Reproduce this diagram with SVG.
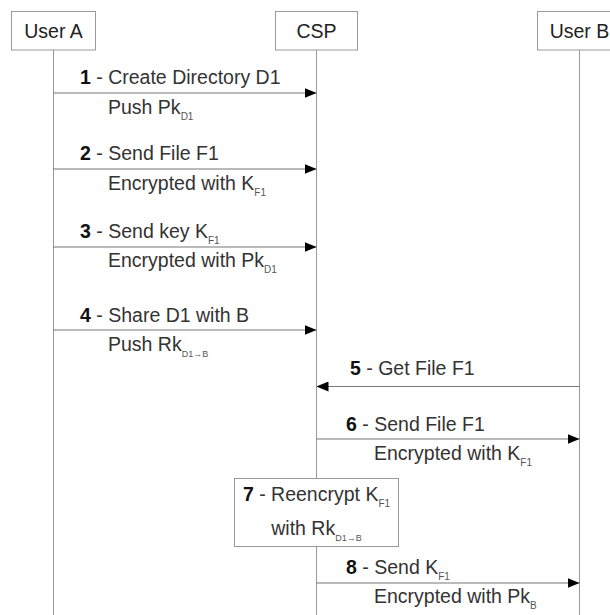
<svg xmlns="http://www.w3.org/2000/svg" width="610" height="615" viewBox="0 0 610 615">
<style>
.box{fill:#fff;stroke:#999;stroke-width:1}
.life{stroke:#999;stroke-width:1}
.msg{stroke:#777;stroke-width:1.2;fill:none}
text{font-family:"Liberation Sans",Arial,sans-serif;font-size:19.5px;fill:#333}
.hd{fill:#222}
.b{font-weight:bold;fill:#111}
.s{font-size:10px;fill:#555}
</style>
<defs>
<marker id="ah" markerWidth="12" markerHeight="10" refX="12" refY="5" orient="auto" markerUnits="userSpaceOnUse">
<path d="M0,0 L12,5 L0,10 Z" fill="#000"/>
</marker>
</defs>
<rect width="610" height="615" fill="#fff"/>
<g id="lifelines">
<line class="life" x1="53.5" y1="50" x2="53.5" y2="615"/>
<line class="life" x1="316.5" y1="50" x2="316.5" y2="615"/>
<line class="life" x1="579.5" y1="50" x2="579.5" y2="615"/>
</g>
<g id="userA"><rect class="box" x="11.5" y="11.5" width="84" height="38.5"/><text class="hd" x="53.5" y="38" text-anchor="middle">User A</text></g>
<g id="csp"><rect class="box" x="275.5" y="11.5" width="82" height="38.5"/><text class="hd" x="316.5" y="38" text-anchor="middle">CSP</text></g>
<g id="userB"><rect class="box" x="537.5" y="11.5" width="84" height="38.5"/><text class="hd" x="579.5" y="38" text-anchor="middle">User B</text></g>
<g id="connectors">
<line class="msg" x1="53.5" y1="93" x2="316.5" y2="93" marker-end="url(#ah)"/>
<line class="msg" x1="53.5" y1="169" x2="316.5" y2="169" marker-end="url(#ah)"/>
<line class="msg" x1="53.5" y1="247" x2="316.5" y2="247" marker-end="url(#ah)"/>
<line class="msg" x1="53.5" y1="330" x2="316.5" y2="330" marker-end="url(#ah)"/>
<line class="msg" x1="579.5" y1="386.5" x2="316.5" y2="386.5" marker-end="url(#ah)"/>
<line class="msg" x1="316.5" y1="439" x2="579.5" y2="439" marker-end="url(#ah)"/>
<line class="msg" x1="316.5" y1="583" x2="579.5" y2="583" marker-end="url(#ah)"/>
</g>
<g id="labels">
<text x="80" y="84"><tspan class="b">1</tspan> - Create Directory D1</text>
<text x="108" y="114">Push Pk<tspan class="s" dy="6">D1</tspan></text>
<text x="80" y="160"><tspan class="b">2</tspan> - Send File F1</text>
<text x="108" y="190">Encrypted with K<tspan class="s" dy="6">F1</tspan></text>
<text x="80" y="238"><tspan class="b">3</tspan> - Send key K<tspan class="s" dy="6">F1</tspan></text>
<text x="108" y="267">Encrypted with Pk<tspan class="s" dy="6">D1</tspan></text>
<text x="80" y="322"><tspan class="b">4</tspan> - Share D1 with B</text>
<text x="108" y="351">Push Rk<tspan class="s" dy="6" style="font-size:9px">D1→B</tspan></text>
<text x="350" y="375"><tspan class="b">5</tspan> - Get File F1</text>
<text x="346" y="431"><tspan class="b">6</tspan> - Send File F1</text>
<text x="374" y="460">Encrypted with K<tspan class="s" dy="6">F1</tspan></text>
<text x="346" y="574"><tspan class="b">8</tspan> - Send K<tspan class="s" dy="6">F1</tspan></text>
<text x="374" y="603">Encrypted with Pk<tspan class="s" dy="6">B</tspan></text>
</g>
<g id="step7">
<rect class="box" x="234.5" y="478.5" width="164" height="68"/>
<text x="316.5" y="501" text-anchor="middle"><tspan class="b">7</tspan> - Reencrypt K<tspan class="s" dy="6">F1</tspan></text>
<text x="316.5" y="535" text-anchor="middle">with Rk<tspan class="s" dy="6" style="font-size:9px">D1→B</tspan></text>
</g>
</svg>
